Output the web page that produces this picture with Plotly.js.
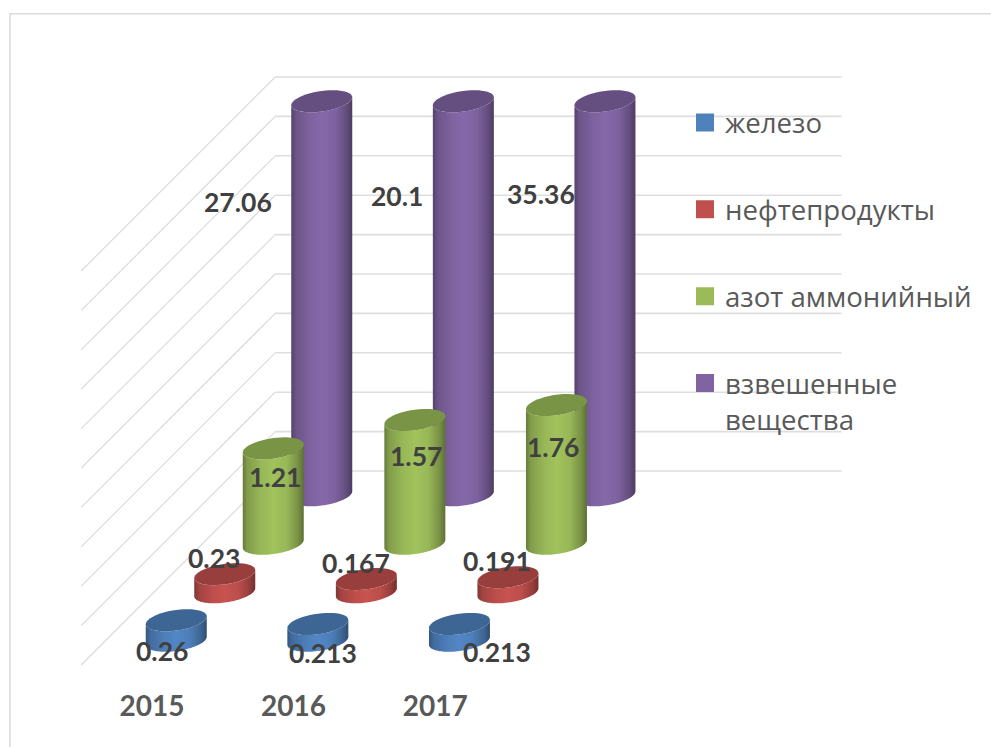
<!DOCTYPE html>
<html><head><meta charset="utf-8">
<script src="https://cdn.plot.ly/plotly-3.0.1.min.js"></script>
<style>html,body{margin:0;padding:0;background:#fff}#c{width:991px;height:747px}</style>
</head><body><div id="c"></div>
<script>
// --- data ---
const categories = ['2015', '2016', '2017'];
const seriesNames = ['железо', 'нефтепродукты', 'азот аммонийный', 'взвешенные<br>вещества'];
const iron = [0.26, 0.213, 0.213];
const oil = [0.23, 0.167, 0.191];
const ammonia = [1.21, 1.57, 1.76];
const suspended = [27.06, 20.1, 35.36];
const gridTicks = [0, 0.5, 1, 1.5, 2, 2.5, 3, 3.5, 4, 4.5, 5];

// --- style ---
const seriesColors = ['#4f81bd', '#c0504d', '#9bbb59', '#8064a2'];
const axisMax = 5;          // value axis is cut at 5: taller bars are clipped
const slots = 4;            // category slots on the floor (one left empty)

// --- oblique projection (plot units) ---
const pxX = 141.6, pxY = 78.8;            // pixels per category / per value
const depthX = 194 / pxX, depthY = 194 / pxY;
const projX = (i, d) => i + d * depthX;
const projY = (v, d) => v + (d - 1) * depthY;
const W = 991, H = 747, bottom = 60;
const xRange = [-152 / pxX, (W - 152) / pxX];
const yRange = [(471 - (H - bottom)) / pxY, 471 / pxY];

// --- label placement, pixels from bar-top centre ---
const labelOffsets = [
  [[-14, 30.5], [5, 29], [38, 28]],
  [[-11, -16], [-10, -16], [-11, -16]],
  [[2, 29], [1, 36], [-3.5, 42]],
  [[-84, 101], [-66, 95], [-64, 93]]
];

function mix(hex, f) {
  const n = parseInt(hex.slice(1), 16);
  const c = [n >> 16, (n >> 8) & 255, n & 255].map(v => Math.min(255, Math.round(v * f)));
  return 'rgb(' + c.join(',') + ')';
}
const R = 30.5, TILT = 4, B = 10.3, N = 48;
function ellipse(cx, cy, a, b) {
  const xs = [], ys = [];
  for (let k = 0; k <= N; k++) {
    const t = a + (b - a) * k / N;
    xs.push(cx + R * Math.cos(t) / pxX);
    ys.push(cy + (TILT * Math.cos(t) + B * Math.sin(t)) / pxY);
  }
  return [xs, ys];
}

const allSeries = [iron, oil, ammonia, suspended];
const traces = [], annotations = [];

// back wall and side wall grid, from the value axis ticks
const gx = [], gy = [], sx = [], sy = [];
gridTicks.forEach(t => {
  gx.push(projX(-0.5, 1), projX(slots - 0.5, 1), null);
  gy.push(t, t, null);
  sx.push(projX(-0.5, 0), projX(-0.5, 1), null);
  sy.push(projY(t, 0), projY(t, 1), null);
});
traces.push({x: gx, y: gy, mode: 'lines', line: {color: '#dedede', width: 1.6}, showlegend: false, hoverinfo: 'skip'});
traces.push({x: sx, y: sy, mode: 'lines', line: {color: '#d9d9d9', width: 1.1}, showlegend: false, hoverinfo: 'skip'});

// cylinders, drawn from the back row to the front row
for (let s = allSeries.length - 1; s >= 0; s--) {
  const d = (s + 0.5) / allSeries.length;
  const col = seriesColors[s];
  allSeries[s].forEach((v, i) => {
    const cx = projX(i, d), base = projY(0, d), top = projY(Math.min(v, axisMax), d);
    const [bx, by] = ellipse(cx, base, Math.PI, 2 * Math.PI);
    const [tx, ty] = ellipse(cx, top, 2 * Math.PI, Math.PI);
    traces.push({
      x: bx.concat(tx, [bx[0]]), y: by.concat(ty, [by[0]]),
      mode: 'none', fill: 'toself', showlegend: false, hoverinfo: 'skip',
      fillgradient: {type: 'horizontal', colorscale: [
        [0, mix(col, 0.66)], [0.08, mix(col, 0.84)], [0.3, mix(col, 0.98)], [0.5, mix(col, 1.04)],
        [0.72, mix(col, 0.98)], [0.9, mix(col, 0.78)], [1, mix(col, 0.6)]
      ]}
    });
    const [ex, ey] = ellipse(cx, top, 0, 2 * Math.PI);
    traces.push({
      x: ex, y: ey, mode: 'none', fill: 'toself', fillcolor: mix(col, 0.79),
      showlegend: false, hoverinfo: 'skip'
    });
    const off = labelOffsets[s][i];
    annotations.push({
      x: cx, y: top, xref: 'x', yref: 'y', text: String(v), showarrow: false,
      xanchor: 'center', yanchor: 'middle', xshift: off[0], yshift: -off[1],
      font: {family: 'Lato, "Open Sans", sans-serif', size: 26.5, color: '#404040', weight: 700}
    });
  });
}

// legend entries
seriesNames.forEach((name, s) => {
  traces.push({
    x: [null], y: [null], name: name, legendgroup: 'g' + s, mode: 'markers',
    marker: {symbol: 'square', size: 16, color: seriesColors[s], line: {color: seriesColors[s], width: 2}},
    showlegend: true, hoverinfo: 'skip'
  });
});

const layout = {
  width: W, height: H, margin: {l: 0, r: 0, t: 0, b: bottom},
  paper_bgcolor: '#fff', plot_bgcolor: 'rgba(0,0,0,0)',
  font: {family: '"Open Sans", sans-serif'},
  showlegend: true,
  legend: {
    x: 685 / W, y: 1 - 98 / (H - bottom), xanchor: 'left', yanchor: 'top', valign: 'top',
    traceorder: 'grouped', tracegroupgap: 48, bgcolor: 'rgba(0,0,0,0)',
    font: {family: '"Open Sans", sans-serif', size: 27.6, color: '#595959'},
    itemclick: false, itemdoubleclick: false
  },
  xaxis: {
    range: xRange, showgrid: false, zeroline: false, showline: false, ticks: '',
    tickmode: 'array', tickvals: categories.map((c, i) => i), ticktext: categories,
    tickfont: {family: 'Lato, "Open Sans", sans-serif', size: 28, color: '#595959', weight: 700}
  },
  yaxis: {range: yRange, showgrid: false, zeroline: false, showline: false, ticks: '', showticklabels: false},
  annotations: annotations,
  shapes: [{
    type: 'path', xref: 'paper', yref: 'paper', layer: 'below',
    path: 'M ' + (10 / W) + ' ' + (-60 / (H - bottom)) + ' L ' + (10 / W) + ' ' + (1 - 13.7 / (H - bottom)) + ' L 1 ' + (1 - 13.7 / (H - bottom)),
    line: {color: '#dcdcdc', width: 1.6}
  }]
};
Plotly.newPlot('c', traces, layout, {displayModeBar: false, staticPlot: true});
</script></body></html>
